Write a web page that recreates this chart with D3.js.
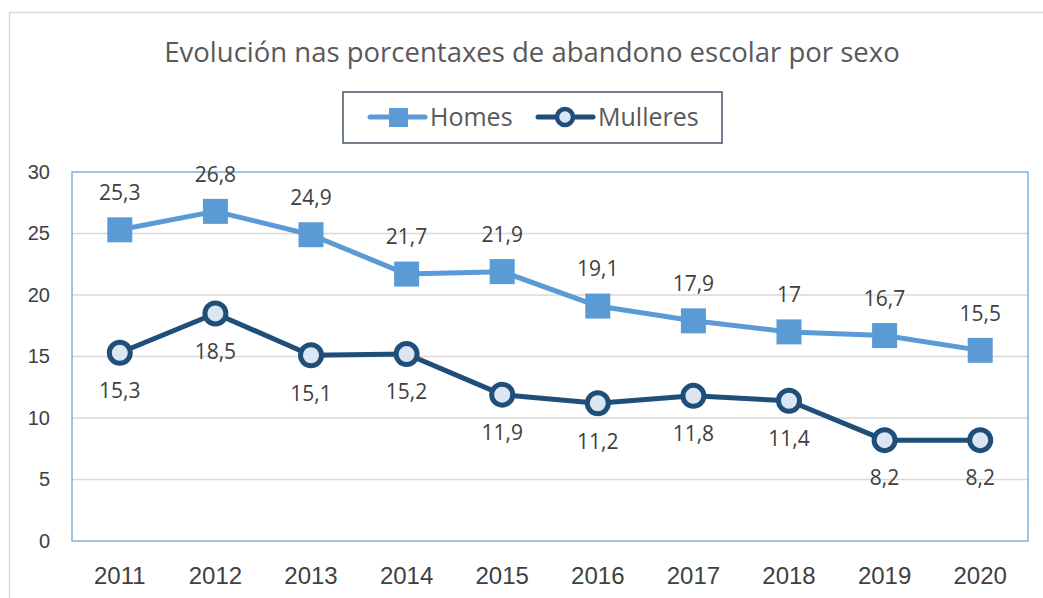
<!DOCTYPE html>
<html>
<head>
<meta charset="utf-8">
<script src="https://cdn.jsdelivr.net/npm/d3@7"></script>
<style>
  body { margin: 0; background: #fff; }
  svg { display: block; font-family: "Open Sans", sans-serif; }
</style>
</head>
<body>
<svg id="chart" width="1043" height="598"></svg>
<script>
// data
const years = ["2011", "2012", "2013", "2014", "2015", "2016", "2017", "2018", "2019", "2020"];
const homes = [25.3, 26.8, 24.9, 21.7, 21.9, 19.1, 17.9, 17, 16.7, 15.5];
const mulleres = [15.3, 18.5, 15.1, 15.2, 11.9, 11.2, 11.8, 11.4, 8.2, 8.2];
const yTicks = [0, 5, 10, 15, 20, 25, 30];

const svg = d3.select("#chart");
const margin = { top: 172, right: 15, bottom: 57, left: 72 };
const width = 1043, height = 598;

// outer chart border (only left/top visible)
svg.append("rect")
    .attr("x", 9.5).attr("y", 12.5)
    .attr("width", 1060).attr("height", 620)
    .attr("fill", "none")
    .attr("stroke", "#d9d9d9")
    .attr("stroke-width", 1.5);

const x = d3.scaleBand()
    .domain(years)
    .range([margin.left, width - margin.right]);

const y = d3.scaleLinear()
    .domain([0, 30])
    .range([height - margin.bottom, margin.top]);

// gridlines
svg.append("g")
    .selectAll("line")
    .data(yTicks.slice(1, -1))
    .enter().append("line")
    .attr("x1", margin.left).attr("x2", width - margin.right)
    .attr("y1", d => y(d)).attr("y2", d => y(d))
    .attr("stroke", "#d9d9d9")
    .attr("stroke-width", 1.5);

// plot area border
svg.append("rect")
    .attr("x", margin.left).attr("y", margin.top)
    .attr("width", width - margin.right - margin.left)
    .attr("height", height - margin.bottom - margin.top)
    .attr("fill", "none")
    .attr("stroke", "#7fb0df")
    .attr("stroke-width", 1.5);

// axes
const yAxis = svg.append("g")
    .attr("transform", `translate(${margin.left},0)`)
    .call(d3.axisLeft(y).tickValues(yTicks).tickSize(0).tickPadding(22));
yAxis.select(".domain").remove();
yAxis.selectAll("text")
    .attr("fill", "#404040")
    .style("font-size", "20px");

const xAxis = svg.append("g")
    .attr("transform", `translate(0,${height - margin.bottom})`)
    .call(d3.axisBottom(x).tickSize(0).tickPadding(26));
xAxis.select(".domain").remove();
xAxis.selectAll("text")
    .attr("fill", "#404040")
    .style("font-size", "24px");

const cx = d => x(d) + x.bandwidth() / 2;

const lineGen = d3.line()
    .x((d, i) => cx(years[i]))
    .y(d => y(d));

// Homes
svg.append("path")
    .datum(homes)
    .attr("d", lineGen)
    .attr("fill", "none")
    .attr("stroke", "#5b9bd5")
    .attr("stroke-width", 5)
    .attr("stroke-linejoin", "round");

svg.append("g")
    .selectAll("rect")
    .data(homes)
    .enter().append("rect")
    .attr("x", (d, i) => cx(years[i]) - 12.5)
    .attr("y", d => y(d) - 12.5)
    .attr("width", 25).attr("height", 25)
    .attr("fill", "#5b9bd5");

svg.append("g")
    .selectAll("text")
    .data(homes)
    .enter().append("text")
    .attr("x", (d, i) => cx(years[i]))
    .attr("y", d => y(d) - 37)
    .attr("dy", "0.35em")
    .attr("text-anchor", "middle")
    .attr("fill", "#404040")
    .style("font-size", "21px")
    .text(d => String(d).replace(".", ","));

// Mulleres
svg.append("path")
    .datum(mulleres)
    .attr("d", lineGen)
    .attr("fill", "none")
    .attr("stroke", "#1f4e79")
    .attr("stroke-width", 5)
    .attr("stroke-linejoin", "round");

svg.append("g")
    .selectAll("circle")
    .data(mulleres)
    .enter().append("circle")
    .attr("cx", (d, i) => cx(years[i]))
    .attr("cy", d => y(d))
    .attr("r", 10.5)
    .attr("fill", "#dae6f4")
    .attr("stroke", "#1f4e79")
    .attr("stroke-width", 5);

svg.append("g")
    .selectAll("text")
    .data(mulleres)
    .enter().append("text")
    .attr("x", (d, i) => cx(years[i]))
    .attr("y", d => y(d) + 38)
    .attr("dy", "0.35em")
    .attr("text-anchor", "middle")
    .attr("fill", "#404040")
    .style("font-size", "21px")
    .text(d => String(d).replace(".", ","));

// title
svg.append("text")
    .attr("x", 532).attr("y", 62)
    .attr("text-anchor", "middle")
    .attr("fill", "#595959")
    .style("font-size", "27.5px")
    .text("Evolución nas porcentaxes de abandono escolar por sexo");

// legend
const legend = svg.append("g");
legend.append("rect")
    .attr("x", 343).attr("y", 92)
    .attr("width", 379).attr("height", 51)
    .attr("fill", "#fff")
    .attr("stroke", "#44546a")
    .attr("stroke-width", 1.5);

legend.append("line")
    .attr("x1", 370).attr("x2", 425).attr("y1", 117).attr("y2", 117)
    .attr("stroke", "#5b9bd5").attr("stroke-width", 5).attr("stroke-linecap", "round");
legend.append("rect")
    .attr("x", 389).attr("y", 108).attr("width", 19).attr("height", 19)
    .attr("fill", "#5b9bd5");
legend.append("text")
    .attr("x", 430).attr("y", 117).attr("dy", "0.35em")
    .attr("fill", "#595959").style("font-size", "25px")
    .text("Homes");

legend.append("line")
    .attr("x1", 538).attr("x2", 593).attr("y1", 117).attr("y2", 117)
    .attr("stroke", "#1f4e79").attr("stroke-width", 5).attr("stroke-linecap", "round");
legend.append("circle")
    .attr("cx", 565).attr("cy", 117).attr("r", 8)
    .attr("fill", "#dae6f4").attr("stroke", "#1f4e79").attr("stroke-width", 4.5);
legend.append("text")
    .attr("x", 598).attr("y", 117).attr("dy", "0.35em")
    .attr("fill", "#595959").style("font-size", "25px")
    .text("Mulleres");
</script>
</body>
</html>
